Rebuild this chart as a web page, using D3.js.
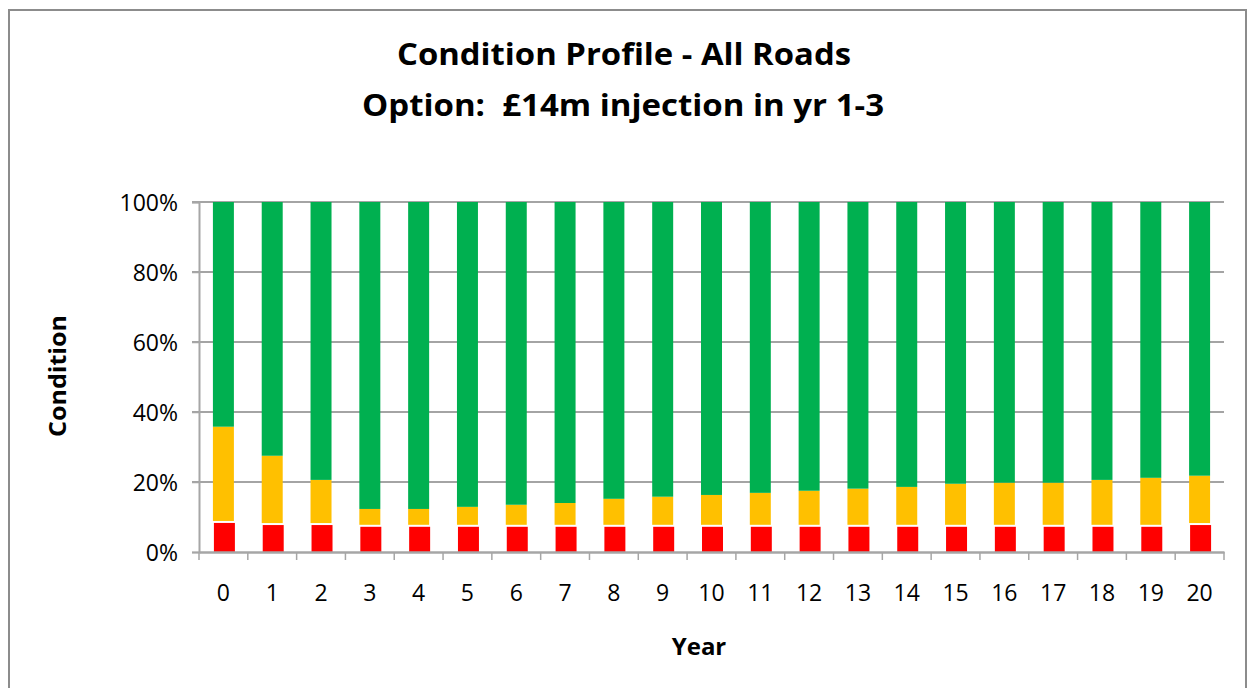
<!DOCTYPE html>
<html>
<head>
<meta charset="utf-8">
<script src="https://cdn.jsdelivr.net/npm/d3@7"></script>
<style>
  html, body { margin: 0; padding: 0; background: #fff; }
  svg { display: block; font-family: "Open Sans", sans-serif; }
</style>
</head>
<body>
<svg id="chart" width="1254" height="688"></svg>
<script>
// data (percent of network)
const years = ["0","1","2","3","4","5","6","7","8","9","10","11","12","13","14","15","16","17","18","19","20"];
const red   = [8.3, 7.7, 7.7, 7.2, 7.2, 7.2, 7.2, 7.2, 7.2, 7.2, 7.2, 7.2, 7.2, 7.2, 7.2, 7.2, 7.2, 7.2, 7.2, 7.2, 7.7];
const amber = [27.5, 19.8, 12.9, 5.1, 5.1, 5.7, 6.3, 6.8, 8.0, 8.6, 9.1, 9.7, 10.3, 10.9, 11.4, 12.3, 12.6, 12.6, 13.4, 14.0, 14.1];
const green = [64.2, 72.5, 79.4, 87.7, 87.7, 87.1, 86.5, 86.0, 84.8, 84.2, 83.7, 83.1, 82.5, 81.9, 81.4, 80.5, 80.2, 80.2, 79.4, 78.8, 78.2];
const yTicks = [0, 20, 40, 60, 80, 100];

const COLORS = { red: "#FF0000", amber: "#FFC000", green: "#00B050" };
const GAP = 2; // white gap between red and amber

const svg = d3.select("#chart");
const m = { left: 199, right: 1224, top: 202, bottom: 552 };

// chart frame
svg.append("rect").attr("x", 9).attr("y", 10).attr("width", 1237).attr("height", 690)
  .attr("fill", "#fff").attr("stroke", "#8c8c8c").attr("stroke-width", 2);

const x = d3.scaleBand().domain(years).range([m.left, m.right]).paddingInner(0.57).paddingOuter(0.285);
const xTick = d3.scaleBand().domain(years).range([m.left, m.right]);
const y = d3.scaleLinear().domain([0, 100]).range([m.bottom, m.top]);

// gridlines
svg.append("g").selectAll("line").data(yTicks.filter(d => d > 0)).join("line")
  .attr("x1", m.left - 7).attr("x2", m.right).attr("y1", d => y(d)).attr("y2", d => y(d))
  .attr("stroke", "#868686").attr("stroke-width", 1.5);

// y axis
const yAxis = svg.append("g").attr("transform", `translate(${m.left},0)`)
  .call(d3.axisLeft(y).tickValues(yTicks).tickFormat(d => d + "%").tickSize(7).tickPadding(14));
yAxis.select(".domain").attr("stroke", "#a6a6a6").attr("stroke-width", 2);
yAxis.selectAll(".tick line").attr("stroke", "#a6a6a6").attr("stroke-width", 1.5);
yAxis.selectAll("text").attr("font-size", 23).attr("fill", "#000").attr("font-family", "Open Sans").attr("dy", "0.38em");

// bars
const rows = years.map((yr, i) => ({ yr, r: red[i], a: amber[i], g: green[i] }));
const bars = svg.append("g").selectAll("g").data(rows).join("g");
bars.append("rect").attr("fill", COLORS.red)
  .attr("x", d => x(d.yr) + 1).attr("width", x.bandwidth())
  .attr("y", d => y(d.r)).attr("height", d => y(0) - y(d.r));
bars.append("rect").attr("fill", COLORS.amber)
  .attr("x", d => x(d.yr)).attr("width", x.bandwidth())
  .attr("y", d => y(d.r + d.a)).attr("height", d => y(d.r) - y(d.r + d.a) - GAP);
bars.append("rect").attr("fill", COLORS.green)
  .attr("x", d => x(d.yr)).attr("width", x.bandwidth())
  .attr("y", d => y(d.r + d.a + d.g)).attr("height", d => y(d.r + d.a) - y(d.r + d.a + d.g));

// x axis
const xAxis = svg.append("g").attr("transform", `translate(0,${m.bottom})`)
  .call(d3.axisBottom(x).tickSize(0).tickPadding(33));
xAxis.select(".domain").attr("stroke", "#a6a6a6").attr("stroke-width", 2.5);
xAxis.selectAll("text").attr("font-size", 23).attr("fill", "#000").attr("font-family", "Open Sans");
svg.append("g").selectAll("line").data(years.concat(["end"])).join("line")
  .attr("x1", d => d === "end" ? m.right : xTick(d)).attr("x2", d => d === "end" ? m.right : xTick(d))
  .attr("y1", m.bottom).attr("y2", m.bottom + 8)
  .attr("stroke", "#a6a6a6").attr("stroke-width", 1.5);

// titles
const title = svg.append("g").attr("font-weight", "bold").attr("text-anchor", "middle").attr("fill", "#000");
title.append("text").attr("x", 624).attr("y", 65).attr("font-size", 31)
  .attr("textLength", 454).attr("lengthAdjust", "spacingAndGlyphs").text("Condition Profile - All Roads");
title.append("text").attr("x", 623).attr("y", 116).attr("font-size", 31).style("white-space", "pre")
  .attr("textLength", 522).attr("lengthAdjust", "spacingAndGlyphs").text("Option:  £14m injection in yr 1-3");

svg.append("text").attr("transform", "translate(66,376) rotate(-90)")
  .attr("text-anchor", "middle").attr("font-weight", "bold").attr("font-size", 24)
  .attr("textLength", 122).attr("lengthAdjust", "spacingAndGlyphs").text("Condition");
svg.append("text").attr("x", 699).attr("y", 655)
  .attr("text-anchor", "middle").attr("font-weight", "bold").attr("font-size", 24).text("Year");
</script>
</body>
</html>
